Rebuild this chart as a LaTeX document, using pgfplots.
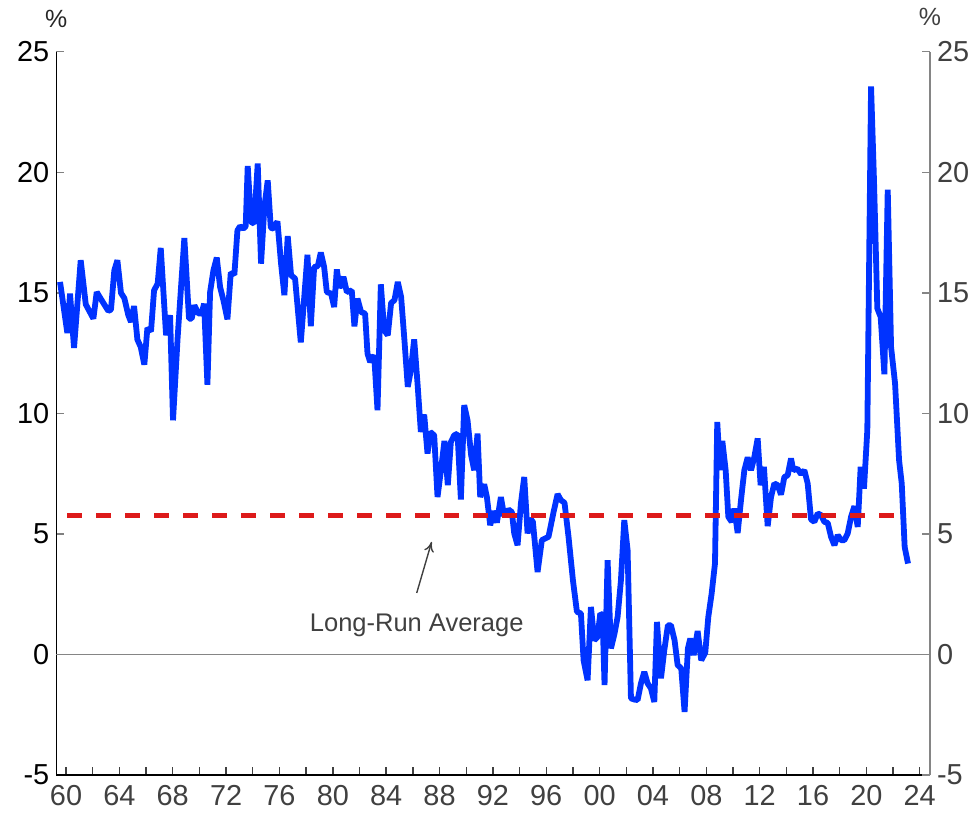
\documentclass[border=0pt]{standalone}
\usepackage{fontspec}
\setmainfont{Liberation Sans}
\usepackage{pgfplots}
\pgfplotsset{compat=1.18}
\usetikzlibrary{arrows.meta}

\definecolor{lineblue}{HTML}{0033FF}
\definecolor{avgred}{HTML}{DD1A1A}
\definecolor{txtgray}{HTML}{404040}
\definecolor{axgray}{HTML}{858585}

\begin{document}
\begin{tikzpicture}
% fixed page: 975x814 px at 0.5bp per px
\path[use as bounding box] (-28.15bp,-19.5bp) rectangle (459.4bp,387.55bp);
\pgfplotsset{
  base/.style={
    at={(0,0)}, anchor=south west,
    width=436.9bp, height=361.7bp, scale only axis,
    xmin=1959.27, xmax=2024.77, ymin=-5, ymax=25,
    ytick={-5,0,...,25}, yticklabels={-5,0,5,10,15,20,25},
    major tick length=4bp, minor tick length=4bp,
    tick style={line width=0.7bp},
    tick label style={font=\fontsize{14.5}{17}\selectfont},
    clip=false,
  }
}
\begin{axis}[base,
  axis x line*=bottom, axis y line*=left,
  axis line style={line width=0.7bp, black},
  xtick={1960,1964,...,2024},
  xticklabels={60,64,68,72,76,80,84,88,92,96,00,04,08,12,16,20,24},
  minor xtick={1962,1966,...,2022},
  xtick align=inside, ytick align=inside,
  x tick style={txtgray},
  x tick label style={text=txtgray, yshift=-1.5bp},
  y tick label style={text=black},
]
% zero line
\addplot[axgray, line width=0.6bp] coordinates {(1959.27,0) (2024.77,0)};
% series
\addplot[lineblue, line width=2.9bp, line join=bevel] coordinates {
(1959.55,15.45) (1960.10,13.33) (1960.30,14.97) (1960.60,12.71) (1961.10,16.35)
(1961.48,14.52) (1962.05,13.93) (1962.30,15.03) (1962.75,14.62) (1963.17,14.25)
(1963.37,14.30) (1963.62,15.93) (1963.85,16.35) (1964.12,14.99) (1964.37,14.78)
(1964.67,14.07) (1964.87,13.79) (1965.10,14.45) (1965.35,13.06) (1965.60,12.75)
(1965.87,12.02) (1966.10,13.54) (1966.37,13.40) (1966.60,15.10) (1966.87,15.38)
(1967.10,16.86) (1967.50,13.24) (1967.80,14.07) (1968.02,9.71) (1968.37,13.17)
(1968.87,17.27) (1969.22,13.93) (1969.42,13.93) (1969.62,14.48) (1969.92,14.14)
(1970.17,14.14) (1970.35,14.55) (1970.60,11.19) (1970.80,15.03) (1971.05,15.93)
(1971.30,16.46) (1971.55,15.24) (1971.80,14.69) (1972.10,13.90) (1972.35,15.84)
(1972.62,15.75) (1972.85,17.59) (1973.05,17.76) (1973.30,17.66) (1973.47,17.76)
(1973.62,20.26) (1973.87,17.94) (1974.10,17.87) (1974.37,20.36) (1974.62,16.21)
(1974.87,18.56) (1975.12,19.66) (1975.35,17.70) (1975.55,17.66) (1975.85,17.96)
(1976.12,16.21) (1976.37,14.90) (1976.62,17.35) (1976.87,15.73) (1977.17,15.59)
(1977.60,12.94) (1978.10,16.58) (1978.35,13.61) (1978.60,16.07) (1978.87,16.10)
(1979.10,16.67) (1979.35,16.07) (1979.55,15.03) (1979.87,14.97) (1980.10,14.41)
(1980.30,15.97) (1980.50,15.20) (1980.80,15.66) (1981.05,15.03) (1981.42,15.10)
(1981.62,13.61) (1981.85,14.76) (1982.12,14.20) (1982.42,14.14) (1982.60,12.48)
(1982.80,12.13) (1983.10,12.41) (1983.35,10.13) (1983.60,15.35) (1983.85,13.45)
(1984.12,13.24) (1984.37,14.58) (1984.62,14.69) (1984.87,15.45) (1985.12,14.83)
(1985.37,13.03) (1985.62,11.10) (1985.85,11.79) (1986.10,13.07) (1986.35,11.24)
(1986.60,9.23) (1986.85,9.95) (1987.10,8.33) (1987.30,9.23) (1987.60,9.09)
(1987.85,6.53) (1988.12,7.71) (1988.37,8.86) (1988.62,7.02) (1988.85,8.81)
(1989.10,9.09) (1989.35,9.16) (1989.60,6.43) (1989.85,10.34) (1990.10,9.71)
(1990.37,8.26) (1990.60,7.64) (1990.85,9.16) (1991.05,6.53) (1991.35,7.06)
(1991.55,6.53) (1991.80,5.36) (1992.05,5.95) (1992.30,5.47) (1992.60,6.53)
(1992.85,5.73) (1993.17,6.01) (1993.42,5.91) (1993.60,5.02) (1993.85,4.53)
(1994.10,6.26) (1994.35,7.36) (1994.60,5.02) (1994.80,5.64) (1995.00,5.50)
(1995.35,3.42) (1995.67,4.74) (1995.92,4.81) (1996.17,4.88) (1996.55,5.91)
(1996.85,6.65) (1997.10,6.40) (1997.37,6.29) (1997.67,4.88) (1998.00,3.08)
(1998.30,1.77) (1998.60,1.70) (1998.80,-0.24) (1999.10,-1.07) (1999.35,1.97)
(1999.60,0.59) (1999.85,0.73) (2000.05,1.70) (2000.22,1.63) (2000.37,-1.27)
(2000.60,3.91) (2000.85,0.25) (2001.12,0.87) (2001.35,1.56) (2001.60,3.08)
(2001.85,5.57) (2002.10,4.32) (2002.35,-1.82) (2002.60,-1.87) (2002.85,-1.89)
(2003.10,-1.20) (2003.35,-0.72) (2003.60,-1.20) (2003.85,-1.41) (2004.10,-1.97)
(2004.30,1.35) (2004.60,-0.99) (2004.85,0.18) (2005.12,1.21) (2005.35,1.21)
(2005.62,0.59) (2005.85,-0.44) (2006.12,-0.58) (2006.37,-2.38) (2006.62,0.25)
(2006.80,0.66) (2007.05,-0.03) (2007.35,0.97) (2007.62,-0.24) (2007.92,0.07)
(2008.15,1.56) (2008.40,2.53) (2008.65,3.77) (2008.82,9.64) (2009.02,7.64)
(2009.20,8.86) (2009.45,7.64) (2009.65,5.71) (2009.90,5.50) (2010.10,6.05)
(2010.35,5.04) (2010.60,6.40) (2010.85,7.64) (2011.10,8.17) (2011.35,7.64)
(2011.60,8.19) (2011.85,8.96) (2012.07,7.02) (2012.32,7.78) (2012.60,5.32)
(2012.85,6.53) (2013.10,7.09) (2013.35,7.02) (2013.60,6.63) (2013.85,7.36)
(2014.10,7.43) (2014.35,8.13) (2014.52,7.64) (2014.82,7.71) (2015.10,7.48)
(2015.35,7.64) (2015.60,7.09) (2015.85,5.60) (2016.10,5.50) (2016.35,5.85)
(2016.60,5.78) (2016.85,5.50) (2017.10,5.46) (2017.35,4.88) (2017.60,4.53)
(2017.85,4.95) (2018.10,4.74) (2018.35,4.74) (2018.60,5.02) (2018.85,5.71)
(2019.10,6.15) (2019.35,5.29) (2019.57,7.78) (2019.82,6.88) (2020.07,9.30)
(2020.35,23.56) (2020.57,19.66) (2020.82,14.35) (2021.07,14.00) (2021.35,11.62)
(2021.60,19.28) (2021.85,12.75) (2022.15,11.24) (2022.45,8.06) (2022.65,7.09)
(2022.87,4.46) (2023.12,3.77)
};
% long-run average
\addplot[avgred, line width=2.3bp, dash pattern=on 7.5bp off 7bp]
  coordinates {(1960.1,5.76) (2023.0,5.76)};
\draw[txtgray, line width=0.7bp, ->, >={To[length=5bp,width=5bp]}]
  (axis cs:1986.29,2.55) -- (axis cs:1987.41,4.67);
\node[txtgray, font=\fontsize{12.8}{15}\selectfont] at (axis cs:1986.29,1.21) {Long-Run Average};
\node[anchor=south, text=black!85, inner sep=0pt, font=\fontsize{12.5}{15}\selectfont]
  at ([yshift=12bp]rel axis cs:0,1) {\%};
\end{axis}
\begin{axis}[base,
  axis x line=none, axis y line*=right,
  axis line style={line width=0.7bp, axgray},
  ytick align=inside,
  y tick style={axgray},
  y tick label style={text=txtgray},
]
\addplot[draw=none] coordinates {(1960,0)};
\node[anchor=south, text=txtgray, inner sep=0pt, font=\fontsize{12.5}{15}\selectfont]
  at ([yshift=13bp]rel axis cs:1,1) {\%};
\end{axis}
\end{tikzpicture}
\end{document}
